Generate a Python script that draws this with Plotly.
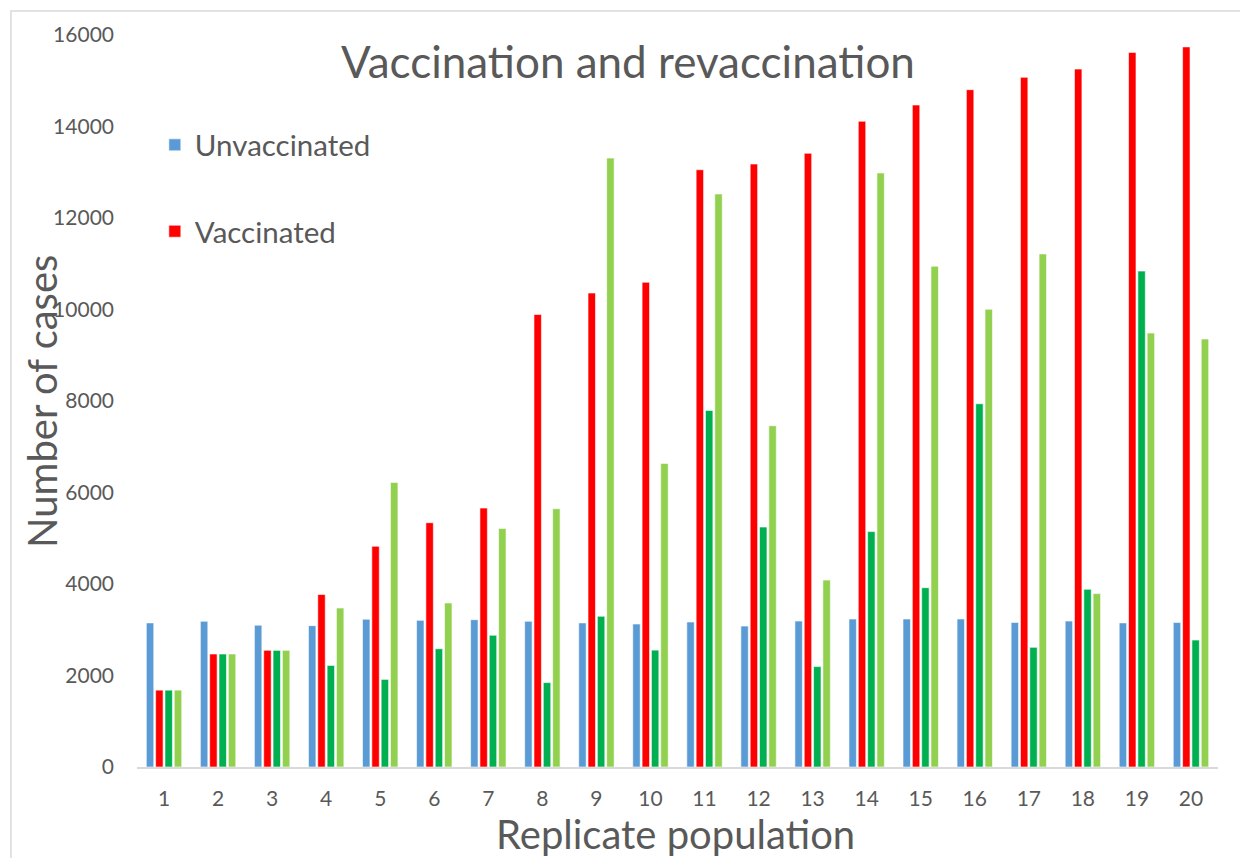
import plotly.graph_objects as go

categories = [str(i) for i in range(1, 21)]

unvaccinated = [3150, 3185, 3100, 3090, 3230, 3205, 3220, 3185, 3150, 3125,
                3170, 3080, 3190, 3235, 3235, 3235, 3160, 3190, 3150, 3160]
vaccinated = [1680, 2470, 2550, 3770, 4825, 5340, 5660, 9890, 10360, 10595,
              13055, 13180, 13415, 14115, 14470, 14805, 15075, 15255, 15620, 15740]
revacc_a = [1680, 2470, 2550, 2220, 1915, 2585, 2880, 1845, 3295, 2555,
            7795, 5245, 2195, 5145, 3920, 7940, 2615, 3885, 10840, 2775]
revacc_b = [1680, 2470, 2550, 3475, 6220, 3585, 5215, 5645, 13310, 6635,
            12525, 7460, 4085, 12985, 10945, 10005, 11215, 3790, 9485, 9355]

y_ticks = [0, 2000, 4000, 6000, 8000, 10000, 12000, 14000, 16000]

FONT = "Lato"
TXT = "#595959"

fig = go.Figure()
series = [
    ("Unvaccinated", unvaccinated, "#5b9bd5", True),
    ("Vaccinated", vaccinated, "#ff0000", True),
    ("Revaccinated A", revacc_a, "#00b050", False),
    ("Revaccinated B", revacc_b, "#92d050", False),
]
for i, (name, vals, color, show) in enumerate(series):
    fig.add_trace(go.Bar(
        x=categories, y=vals, name=name,
        marker=dict(color=color, line=dict(color="white", width=0.6)),
        showlegend=show, legendgroup=f"g{i}",
    ))

fig.update_layout(
    width=1240, height=850,
    paper_bgcolor="white", plot_bgcolor="white",
    margin=dict(l=129, r=30, t=27, b=91),
    barmode="group", bargap=0.31, bargroupgap=0.2,
    font=dict(family=FONT, color=TXT),
    title=dict(text="Vaccination and revaccination", x=0.5, xanchor="center",
               y=0.936, yanchor="middle", font=dict(size=44, color=TXT, family=FONT)),
    legend=dict(x=0.0165, y=0.885, xanchor="left", yanchor="top",
                font=dict(size=29.5, color=TXT, family=FONT),
                tracegroupgap=45, traceorder="grouped",
                bgcolor="rgba(0,0,0,0)"),
    xaxis=dict(
        showline=True, linecolor="#d9d9d9", linewidth=1.5,
        showgrid=False, ticks="", tickfont=dict(size=21, color=TXT),
        ticklabelstandoff=12,
    ),
    yaxis=dict(
        range=[0, 16000], tickvals=y_ticks, tickformat="d", showgrid=False, showline=False,
        zeroline=False, ticks="", tickfont=dict(size=21, color=TXT),
        ticklabelstandoff=22,
    ),
    annotations=[
        dict(text="Number of cases", xref="paper", yref="paper", x=-0.0879, y=0.5,
             xanchor="center", yanchor="middle", textangle=-90, showarrow=False,
             font=dict(size=40, color=TXT, family=FONT)),
        dict(text="Replicate population", xref="paper", yref="paper", x=0.498, y=-0.091,
             xanchor="center", yanchor="middle", showarrow=False,
             font=dict(size=40, color=TXT, family=FONT)),
    ],
    shapes=[dict(type="rect", xref="paper", yref="paper",
                 x0=-0.1166, x1=1.04, y0=-0.141, y1=1.0328,
                 line=dict(color="#d9d9d9", width=1.5), fillcolor="rgba(0,0,0,0)",
                 layer="below")],
)

fig.write_html("out.html")
